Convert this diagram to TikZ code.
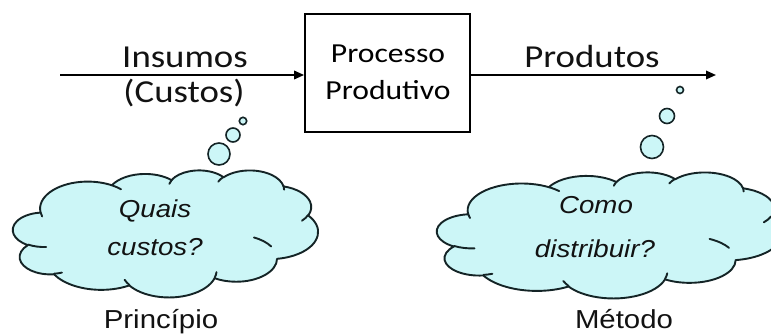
\documentclass[tikz,border=0pt]{standalone}
\usepackage{fontspec}
\usetikzlibrary{arrows.meta}
\newfontfamily\calibrifam[FakeStretch=1.15]{Carlito}
\newfontfamily\arialfam[FakeStretch=1.13]{Liberation Sans}
\definecolor{cloudcyan}{RGB}{204,246,247}
\definecolor{cloudedge}{RGB}{20,36,38}
\definecolor{inktext}{RGB}{18,18,18}

\tikzset{
  flow/.style={line width=1.8, -{Triangle[length=10,width=8.5]}},
  procbox/.style={draw, line width=1.8, minimum width=165, minimum height=118, inner sep=0},
  biglabel/.style={font=\calibrifam\fontsize{32}{38}\selectfont, text=inktext, inner sep=0, anchor=base},
  boxlabel/.style={font=\calibrifam\fontsize{27.5}{33}\selectfont, text=black, inner sep=0, anchor=base},
  thinklabel/.style={font=\arialfam\itshape\fontsize{24.5}{29}\selectfont, text=inktext, inner sep=0, anchor=base},
  caption/.style={font=\arialfam\fontsize{26}{31}\selectfont, text=inktext, inner sep=0, anchor=base},
  bubble/.style={circle, draw=cloudedge, fill=cloudcyan, line width=1.6, inner sep=0},
  cloudbody/.style={draw=cloudedge, fill=cloudcyan, line width=1.9, line join=round},
  cloudline/.style={draw=cloudedge, line width=1.9, line cap=round},
  % cloud outline on a 43.2 x 43.2 grid, y pointing down
  thought cloud/.pic={
    \path[cloudbody] (3.900,14.370)
      arc[start angle=-187.75, end angle=-59.64, x radius=6.753, y radius=9.190]
      arc[start angle=-152.02, end angle=-45.45, x radius=5.333, y radius=7.267]
      arc[start angle=-153.48, end angle=-37.30, x radius=4.365, y radius=5.945]
      arc[start angle=-139.70, end angle=-10.21, x radius=4.857, y radius=6.595]
      arc[start angle=-74.77, end angle=23.21, x radius=5.333, y radius=7.273]
      arc[start angle=-37.50, end angle=81.86, x radius=6.775, y radius=9.220]
      arc[start angle=0.46, end angle=121.98, x radius=5.785, y radius=7.867]
      arc[start angle=16.85, end angle=146.25, x radius=6.752, y radius=9.215]
      arc[start angle=58.98, end angle=150.19, x radius=7.720, y radius=10.543]
      arc[start angle=83.31, end angle=223.11, x radius=4.360, y radius=5.918]
      arc[start angle=120.36, end angle=264.11, x radius=4.345, y radius=5.945]
      -- cycle;
    \path[cloudline]
      (4.693,26.177) arc[start angle=85.55, end angle=120.36, x radius=4.345, y radius=5.945]
      (6.928,34.899) arc[start angle=68.23, end angle=83.31, x radius=4.360, y radius=5.918]
      (16.478,39.090) arc[start angle=146.25, end angle=158.47, x radius=6.752, y radius=9.215]
      (28.827,34.751) arc[start angle=4.74, end angle=16.85, x radius=6.752, y radius=9.215]
      (34.129,22.954) arc[start angle=-64.03, end angle=-30.77, x radius=5.785, y radius=7.867]
      (41.798,15.354) arc[start angle=23.21, end angle=40.88, x radius=5.333, y radius=7.273]
      (38.324,5.426) arc[start angle=-10.21, end angle=0.82, x radius=4.857, y radius=6.595]
      (29.078,3.952) arc[start angle=-156.29, end angle=-139.70, x radius=4.857, y radius=6.595]
      (22.141,4.720) arc[start angle=-167.73, end angle=-153.48, x radius=4.365, y radius=5.945]
      (14.000,5.192) arc[start angle=-59.64, end angle=-45.73, x radius=6.753, y radius=9.190]
      (4.127,15.789) arc[start angle=163.19, end angle=172.25, x radius=6.753, y radius=9.190];
  }
}

\begin{document}
\begin{tikzpicture}[x=1pt, y=-1pt]
  \useasboundingbox[fill=white] (0,0) rectangle (771,334);

  % production process
  \node[procbox] (box) at (387.5,73) {};
  \node[boxlabel] (proc1) at (388,63) {Processo};
  \node[boxlabel] (proc2) at (388,100) {Produtivo};

  % inputs and outputs
  \coordinate (inStart) at (60,75);
  \coordinate (outEnd) at (716,75);
  \draw[flow] (inStart) -- (inStart -| box.west);
  \draw[flow] (outEnd -| box.east) -- (outEnd);
  \node[biglabel] (insumos) at (185,68) {Insumos};
  \node[biglabel] (custos) at (184,103) {(Custos)};
  \node[biglabel] (produtos) at (592,68) {Produtos};

  % thought bubbles
  \node[bubble, minimum size=7.4] (lb1) at (243,121) {};
  \node[bubble, minimum size=14] (lb2) at (233,135) {};
  \node[bubble, minimum size=22] (lb3) at (219,154) {};
  \node[bubble, minimum size=7] (rb1) at (680,90) {};
  \node[bubble, minimum size=15] (rb2) at (667,116) {};
  \node[bubble, minimum size=23] (rb3) at (652,147) {};

  % clouds
  \path (13,170) pic[xscale=305/43.2, yscale=127/43.2] {thought cloud};
  \path (437,172) pic[xscale=345/43.2, yscale=126/43.2] {thought cloud};

  \node[thinklabel] (q1) at (155,217) {Quais};
  \node[thinklabel] (q2) at (155,255) {custos?};
  \node[thinklabel] (c1) at (596,213) {Como};
  \node[thinklabel] (c2) at (595,257) {distribuir?};

  \node[caption] (principio) at (161,328) {Princípio};
  \node[caption] (metodo) at (624,328) {Método};
\end{tikzpicture}
\end{document}
